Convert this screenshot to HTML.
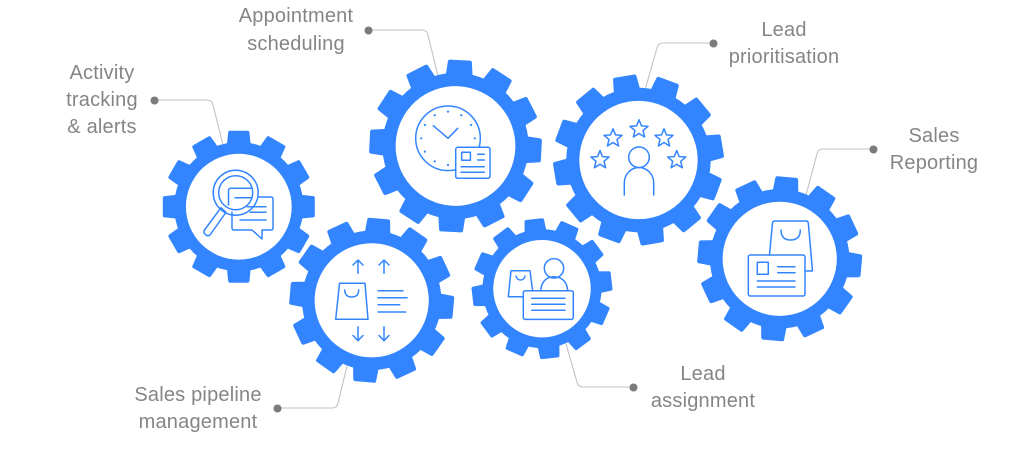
<!DOCTYPE html>
<html>
<head>
<meta charset="utf-8">
<style>
html,body{margin:0;padding:0;background:#fff;width:1024px;height:464px;overflow:hidden}
svg{display:block}
text{font-family:"Liberation Sans",Arial,sans-serif;font-size:20px;fill:#858585;text-anchor:middle;letter-spacing:.2px}
.i{fill:none;stroke:#3385ff;stroke-width:1.5;stroke-linecap:round;stroke-linejoin:round}
.c{fill:none;stroke:#c2c2c2;stroke-width:1.1}
.d{fill:#7a7a7a}
</style>
</head>
<body>
<svg width="1024" height="464" viewBox="0 0 1024 464" xmlns="http://www.w3.org/2000/svg">
<defs>
<polygon id="t" points="-11.500,-97.500 11.500,-97.500 13.500,-78 -13.500,-78" fill="#3385ff" stroke="#3385ff" stroke-width="5" stroke-linejoin="round"/>
<g id="gear">
<circle r="85" fill="#3385ff"/>
<use href="#t"/>
<use href="#t" transform="rotate(30)"/>
<use href="#t" transform="rotate(60)"/>
<use href="#t" transform="rotate(90)"/>
<use href="#t" transform="rotate(120)"/>
<use href="#t" transform="rotate(150)"/>
<use href="#t" transform="rotate(180)"/>
<use href="#t" transform="rotate(210)"/>
<use href="#t" transform="rotate(240)"/>
<use href="#t" transform="rotate(270)"/>
<use href="#t" transform="rotate(300)"/>
<use href="#t" transform="rotate(330)"/>
<circle r="69.600" fill="#fff"/>
</g>
<polygon id="s" class="i" points="0,-9.500 2.470,-3.400 9.030,-2.940 3.990,1.300 5.580,7.690 0,4.200 -5.580,7.690 -3.990,1.300 -9.030,-2.940 -2.470,-3.400"/>
</defs>

<!-- connectors -->
<path class="c" d="M155 100H207Q212 100 213 105L223 145"/>
<path class="c" d="M368 30H422Q427 30 428 35L438 76"/>
<path class="c" d="M713 43H663Q658 43 657 48L645 90"/>
<path class="c" d="M873 149H823Q818 149 817 154L806 195"/>
<path class="c" d="M633 387H583Q578 387 577 382L566 344"/>
<path class="c" d="M277 408H332Q337 408 338 403L348 362"/>
<circle class="d" cx="154.500" cy="100.500" r="4"/>
<circle class="d" cx="368.500" cy="30.500" r="4"/>
<circle class="d" cx="713.500" cy="43.500" r="4"/>
<circle class="d" cx="873.500" cy="149.500" r="4"/>
<circle class="d" cx="633.500" cy="387.500" r="4"/>
<circle class="d" cx="277.500" cy="408.500" r="4"/>

<!-- gears -->
<use href="#gear" transform="translate(238.800 206.700) scale(.76)"/>
<use href="#gear" transform="translate(455.500 146) rotate(3) scale(.86)"/>
<use href="#gear" transform="translate(638.500 160) rotate(-9.500) scale(.85)"/>
<use href="#gear" transform="translate(779.700 258.800) rotate(5) scale(.82)"/>
<use href="#gear" transform="translate(542 288.700) rotate(-6.500) scale(.70)"/>
<use href="#gear" transform="translate(371.700 300.300) rotate(5) scale(.82)"/>

<!-- icon 1 -->
<g class="i">
<circle cx="235.700" cy="192.700" r="22.500"/>
<circle cx="235.700" cy="192.700" r="17"/>
<path d="M221 207.700L226 212.300L210 235Q208 236.500 206 235L204.500 233.500Q203.500 232 204.500 230Z"/>
<path d="M258 197H271Q273 197 273 199V228Q273 230 271 230H262V239L252 230H234Q232 230 232 228V212"/>
<path d="M228.500 205V191Q228.500 188.300 231 188.300H251"/>
<path d="M235 197.700H252M247.300 206.700H266M250 212.300H266M240 220H266"/>
</g>

<!-- icon 2 -->
<g class="i">
<circle cx="448" cy="138.300" r="32.300"/>
<path d="M433.300 125.700L448 138.300L457.700 128.300"/>
</g>
<g fill="#3385ff">
<circle cx="448" cy="111.600" r="1.100"/><circle cx="461.300" cy="115.200" r="1.100"/>
<circle cx="471.100" cy="125" r="1.100"/><circle cx="474.700" cy="138.300" r="1.100"/>
<circle cx="471.100" cy="151.600" r="1.100"/><circle cx="461.300" cy="161.400" r="1.100"/>
<circle cx="448" cy="165" r="1.100"/><circle cx="434.700" cy="161.400" r="1.100"/>
<circle cx="424.900" cy="151.600" r="1.100"/><circle cx="421.300" cy="138.300" r="1.100"/>
<circle cx="424.900" cy="125" r="1.100"/><circle cx="434.700" cy="115.200" r="1.100"/>
</g>
<g class="i">
<rect x="455.700" y="147.300" width="34.300" height="31" rx="2" style="fill:#fff"/>
<rect x="461.700" y="152.300" width="8.700" height="8"/>
<path d="M477.700 154.300H484.300M477.700 160H484.300M461 166.700H484.300M461 172.300H484.300"/>
</g>

<!-- icon 3 -->
<use href="#s" x="600" y="160"/>
<use href="#s" x="613" y="138.300"/>
<use href="#s" x="639" y="129.300"/>
<use href="#s" x="664" y="138.300"/>
<use href="#s" x="676.700" y="160"/>
<g class="i">
<circle cx="639" cy="157.300" r="10.300"/>
<path d="M624.300 195V183A14.700 15.500 0 0 1 653.700 183V195"/>
</g>

<!-- icon 4 -->
<g class="i">
<path d="M769.500 255L772.500 223Q772.700 221 775 221H806Q808 221 808.300 223L812.500 271H805"/>
<path d="M781 230Q781 240 790.500 240Q800.300 240 800.300 230"/>
<rect x="748.300" y="255" width="56.700" height="41" rx="2"/>
<rect x="757.300" y="262.300" width="11" height="12"/>
<path d="M777.700 266.700H795M777.700 272.700H795M757.300 281H795M757.300 287H795"/>
</g>

<!-- icon 5 -->
<g class="i">
<path d="M523 296.700H508.300L511 270.700H530L532.500 290"/>
<path d="M516 276Q517 280 520.500 280Q524 280 525 276"/>
<circle cx="554" cy="268.300" r="9.700"/>
<path d="M540.700 290.500C541.500 281 547 276.700 554 276.700C561 276.700 567 281 567.700 290.500"/>
<rect x="523.300" y="290.700" width="50" height="28.700" rx="2"/>
<path d="M531.700 298.300H565M531.700 304.300H565M531.700 310.300H565"/>
</g>

<!-- icon 6 -->
<g class="i">
<path d="M358 273.300V260M353 265L358 260L363 265"/>
<path d="M384 273.300V260M379 265L384 260L389 265"/>
<path d="M358 326.700V340.700M353 335.500L358 340.700L363 335.500"/>
<path d="M384 326.700V340.700M379 335.500L384 340.700L389 335.500"/>
<path d="M339.500 283.300H365L368 319.300H335.700Z"/>
<path d="M344.700 290Q345 297 351.700 297Q358.500 297 358.700 290"/>
<path d="M378 290.700H403M378 297.700H407M378 304.700H399.700M378 312H405.700"/>
</g>

<!-- labels -->
<text x="102" y="79">Activity</text>
<text x="102" y="106">tracking</text>
<text x="102" y="133">&amp; alerts</text>
<text x="296" y="22">Appointment</text>
<text x="296" y="50">scheduling</text>
<text x="784" y="36">Lead</text>
<text x="784" y="63">prioritisation</text>
<text x="934" y="142">Sales</text>
<text x="934" y="169">Reporting</text>
<text x="703" y="380">Lead</text>
<text x="703" y="407">assignment</text>
<text x="198" y="401">Sales pipeline</text>
<text x="198" y="428">management</text>
</svg>
</body>
</html>
